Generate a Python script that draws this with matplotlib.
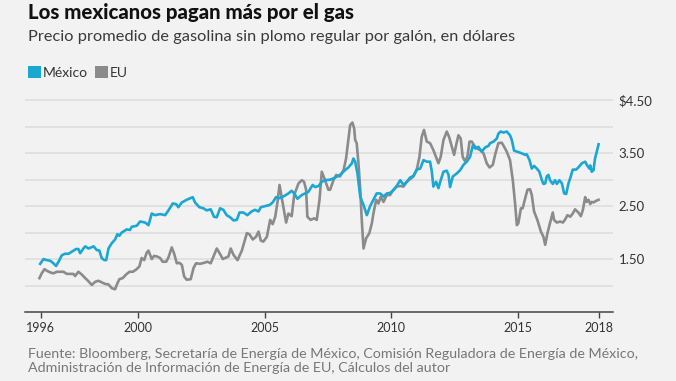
import matplotlib
matplotlib.use("Agg")
import matplotlib.pyplot as plt
from matplotlib.patches import Patch
from matplotlib.ticker import FixedLocator, FuncFormatter

# ---------------- data ----------------
mx_years = [1996.13, 1996.26, 1996.39, 1996.52, 1996.63, 1996.76, 1996.89, 1996.98, 1997.11, 1997.25,
            1997.38, 1997.55, 1997.64, 1997.71, 1997.84, 1997.91, 1998.04, 1998.24, 1998.37, 1998.47,
            1998.56, 1998.66, 1998.74, 1998.83, 1998.96, 1999.09, 1999.18, 1999.26, 1999.35, 1999.55,
            1999.68, 1999.75, 1999.95, 2000.08, 2000.28, 2000.41, 2000.54, 2000.67, 2000.87, 2001.07,
            2001.20, 2001.37, 2001.50, 2001.59, 2001.73, 2001.92, 2002.16, 2002.25, 2002.42, 2002.58,
            2002.71, 2002.87, 2003.00, 2003.11, 2003.24, 2003.37, 2003.50, 2003.64, 2003.77, 2003.90,
            2004.01, 2004.16, 2004.32, 2004.49, 2004.62, 2004.76, 2004.85, 2005.02, 2005.19, 2005.32,
            2005.45, 2005.59, 2005.77, 2005.94, 2006.07, 2006.17, 2006.30, 2006.47, 2006.60, 2006.73,
            2006.90, 2007.00, 2007.13, 2007.26, 2007.39, 2007.59, 2007.79, 2007.98, 2008.18, 2008.31,
            2008.45, 2008.51, 2008.58, 2008.67, 2008.78, 2008.91, 2009.04, 2009.17, 2009.30, 2009.43,
            2009.57, 2009.70, 2009.83, 2009.96, 2010.09, 2010.22, 2010.36, 2010.49, 2010.62, 2010.75,
            2010.88, 2011.01, 2011.15, 2011.28, 2011.41, 2011.54, 2011.61, 2011.67, 2011.78, 2011.87,
            2011.96, 2012.07, 2012.20, 2012.27, 2012.33, 2012.44, 2012.60, 2012.73, 2012.86, 2012.99,
            2013.12, 2013.23, 2013.32, 2013.45, 2013.58, 2013.72, 2013.85, 2013.91, 2014.05, 2014.18,
            2014.24, 2014.33, 2014.44, 2014.57, 2014.70, 2014.77, 2014.86, 2014.97, 2015.10, 2015.30,
            2015.36, 2015.47, 2015.56, 2015.65, 2015.76, 2015.86, 2015.96, 2016.02, 2016.09, 2016.15,
            2016.22, 2016.28, 2016.39, 2016.48, 2016.55, 2016.65, 2016.75, 2016.84, 2016.92, 2017.01,
            2017.10, 2017.18, 2017.31, 2017.40, 2017.54, 2017.67, 2017.76, 2017.84, 2017.87, 2017.93,
            2018.00, 2018.06, 2018.13, 2018.20]
mx_price = [1.41, 1.50, 1.48, 1.47, 1.43, 1.37, 1.48, 1.57, 1.60, 1.60,
            1.64, 1.69, 1.69, 1.61, 1.70, 1.74, 1.70, 1.74, 1.67, 1.66,
            1.52, 1.48, 1.48, 1.70, 1.80, 1.87, 1.97, 1.94, 2.00, 2.06,
            2.05, 2.11, 2.13, 2.21, 2.19, 2.14, 2.36, 2.33, 2.35, 2.33,
            2.42, 2.55, 2.54, 2.48, 2.57, 2.62, 2.67, 2.57, 2.48, 2.46,
            2.42, 2.44, 2.30, 2.29, 2.46, 2.43, 2.33, 2.29, 2.23, 2.24,
            2.38, 2.38, 2.33, 2.40, 2.43, 2.40, 2.48, 2.50, 2.52, 2.57,
            2.67, 2.65, 2.69, 2.74, 2.79, 2.74, 2.64, 2.71, 2.74, 2.77,
            2.90, 2.86, 2.88, 2.96, 2.99, 3.00, 3.04, 3.09, 3.18, 3.23,
            3.31, 3.40, 3.34, 3.12, 2.68, 2.52, 2.33, 2.50, 2.62, 2.74,
            2.74, 2.68, 2.74, 2.75, 2.80, 2.88, 2.99, 2.90, 2.96, 3.04,
            3.07, 3.19, 3.21, 3.37, 3.34, 3.34, 3.15, 2.87, 2.96, 2.84,
            2.99, 3.15, 3.17, 3.09, 2.86, 3.06, 3.12, 3.18, 3.28, 3.34,
            3.43, 3.65, 3.59, 3.62, 3.53, 3.61, 3.64, 3.69, 3.72, 3.78,
            3.87, 3.91, 3.89, 3.91, 3.84, 3.75, 3.55, 3.53, 3.51, 3.47,
            3.48, 3.37, 3.21, 3.26, 3.21, 3.15, 2.99, 2.92, 2.93, 3.06,
            3.09, 2.99, 2.92, 2.99, 2.92, 2.99, 2.93, 2.74, 2.73, 2.93,
            3.06, 3.19, 3.19, 3.23, 3.31, 3.34, 3.26, 3.21, 3.27, 3.15,
            3.18, 3.40, 3.53, 3.67]

eu_years = [1996.10, 1996.19, 1996.30, 1996.39, 1996.52, 1996.65, 1996.79, 1996.92, 1997.05, 1997.18,
            1997.31, 1997.44, 1997.51, 1997.64, 1997.77, 1997.91, 1998.04, 1998.17, 1998.30, 1998.43,
            1998.56, 1998.70, 1998.83, 1998.96, 1999.09, 1999.18, 1999.26, 1999.39, 1999.53, 1999.66,
            1999.79, 1999.92, 2000.05, 2000.14, 2000.24, 2000.34, 2000.41, 2000.54, 2000.63, 2000.74,
            2000.87, 2000.97, 2001.11, 2001.20, 2001.33, 2001.42, 2001.53, 2001.63, 2001.73, 2001.82,
            2001.92, 2002.08, 2002.19, 2002.29, 2002.45, 2002.61, 2002.74, 2002.87, 2002.98, 2003.11,
            2003.21, 2003.35, 2003.44, 2003.57, 2003.66, 2003.77, 2003.93, 2004.10, 2004.30, 2004.40,
            2004.53, 2004.66, 2004.76, 2004.85, 2004.95, 2005.09, 2005.22, 2005.32, 2005.42, 2005.51,
            2005.59, 2005.68, 2005.85, 2005.94, 2006.07, 2006.17, 2006.34, 2006.47, 2006.56, 2006.64,
            2006.69, 2006.82, 2006.96, 2007.06, 2007.17, 2007.26, 2007.39, 2007.52, 2007.59, 2007.72,
            2007.83, 2007.98, 2008.12, 2008.22, 2008.31, 2008.38, 2008.47, 2008.54, 2008.58, 2008.64,
            2008.71, 2008.78, 2008.84, 2008.91, 2009.01, 2009.14, 2009.24, 2009.30, 2009.41, 2009.50,
            2009.59, 2009.70, 2009.83, 2009.96, 2010.09, 2010.22, 2010.36, 2010.49, 2010.62, 2010.75,
            2010.88, 2011.01, 2011.12, 2011.21, 2011.30, 2011.41, 2011.54, 2011.67, 2011.78, 2011.87,
            2011.96, 2012.07, 2012.20, 2012.29, 2012.40, 2012.49, 2012.57, 2012.66, 2012.75, 2012.83,
            2012.93, 2013.02, 2013.10, 2013.19, 2013.28, 2013.39, 2013.52, 2013.65, 2013.78, 2013.89,
            2014.02, 2014.11, 2014.24, 2014.37, 2014.47, 2014.57, 2014.70, 2014.81, 2014.90, 2014.97,
            2015.03, 2015.13, 2015.20, 2015.30, 2015.39, 2015.49, 2015.56, 2015.65, 2015.78, 2015.92,
            2016.02, 2016.09, 2016.18, 2016.28, 2016.39, 2016.44, 2016.55, 2016.68, 2016.79, 2016.88,
            2016.97, 2017.08, 2017.18, 2017.27, 2017.40, 2017.50, 2017.58, 2017.67, 2017.73, 2017.80,
            2017.87, 2017.93, 2018.00, 2018.10, 2018.20]
eu_price = [1.14, 1.23, 1.31, 1.28, 1.25, 1.23, 1.26, 1.26, 1.26, 1.22,
            1.22, 1.22, 1.18, 1.26, 1.21, 1.14, 1.08, 1.01, 1.07, 1.09,
            1.06, 1.03, 1.02, 0.95, 0.93, 1.04, 1.12, 1.14, 1.21, 1.26,
            1.26, 1.30, 1.36, 1.52, 1.48, 1.62, 1.66, 1.50, 1.56, 1.55,
            1.52, 1.45, 1.45, 1.53, 1.72, 1.61, 1.42, 1.43, 1.39, 1.17,
            1.11, 1.12, 1.33, 1.42, 1.41, 1.43, 1.45, 1.42, 1.55, 1.70,
            1.62, 1.50, 1.52, 1.55, 1.70, 1.58, 1.48, 1.66, 1.99, 1.97,
            1.87, 1.92, 2.02, 1.85, 1.83, 1.92, 2.24, 2.16, 2.30, 2.58,
            2.90, 2.65, 2.19, 2.36, 2.31, 2.71, 2.93, 2.99, 2.96, 2.81,
            2.30, 2.24, 2.27, 2.24, 2.62, 3.15, 2.99, 2.81, 2.81, 2.99,
            3.09, 3.06, 3.18, 3.40, 3.75, 4.03, 4.08, 3.97, 3.75, 3.69,
            3.31, 2.81, 2.24, 1.70, 1.89, 1.99, 2.18, 2.36, 2.62, 2.55,
            2.68, 2.58, 2.71, 2.71, 2.81, 2.87, 2.88, 2.87, 2.96, 3.01,
            3.06, 3.18, 3.43, 3.81, 3.94, 3.72, 3.69, 3.56, 3.42, 3.31,
            3.43, 3.75, 3.91, 3.81, 3.62, 3.47, 3.65, 3.84, 3.78, 3.43,
            3.34, 3.45, 3.72, 3.72, 3.65, 3.59, 3.56, 3.50, 3.31, 3.23,
            3.28, 3.47, 3.69, 3.70, 3.62, 3.53, 3.37, 2.99, 2.55, 2.14,
            2.18, 2.46, 2.46, 2.65, 2.81, 2.82, 2.71, 2.40, 2.24, 2.02,
            1.92, 1.77, 1.99, 2.18, 2.38, 2.24, 2.19, 2.21, 2.19, 2.25,
            2.33, 2.30, 2.36, 2.44, 2.38, 2.31, 2.43, 2.67, 2.58, 2.62,
            2.54, 2.58, 2.57, 2.60, 2.62]

series_names = ["México", "EU"]
grid_values = [1.0, 1.5, 2.0, 2.5, 3.0, 3.5, 4.0, 4.5]
y_labels = {1.5: "1.50", 2.5: "2.50", 3.5: "3.50", 4.5: "$4.50"}
x_tick_pos = [1996.15, 2000, 2005, 2010, 2015, 2018.22]
x_tick_labels = ["1996", "2000", "2005", "2010", "2015", "2018"]

title = "Los mexicanos pagan más por el gas"
subtitle = "Precio promedio de gasolina sin plomo regular por galón, en dólares"
source = ("Fuente: Bloomberg, Secretaría de Energía de México, Comisión Reguladora de Energía de México,\n"
          "Administración de Información de Energía de EU, Cálculos del autor")

# ---------------- style ----------------
BG = "#f2f2f2"
BLUE = "#1aa7d4"
GREY = "#8b8b8b"
GRID = "#dddddd"
TXT = "#333333"
FONT = ["Lato", "DejaVu Sans"]
plt.rcParams["font.family"] = FONT

W, H = 676, 381
fig = plt.figure(figsize=(W / 100, H / 100), dpi=100, facecolor=BG)
left, right, bottom, top = 25, 613, 312, 95
ax = fig.add_axes([left / W, 1 - bottom / H, (right - left) / W, (bottom - top) / H])
ax.set_facecolor(BG)

ax.plot(eu_years, eu_price, color=GREY, lw=1.9, solid_joinstyle="round", zorder=3)
ax.plot(mx_years, mx_price, color=BLUE, lw=1.9, solid_joinstyle="round", zorder=4)

ax.set_xlim(1995.53, 2018.77)
ax.set_ylim(0.5, 4.6)

for s in ["top", "right", "left"]:
    ax.spines[s].set_visible(False)
ax.spines["bottom"].set_color("#444444")
ax.spines["bottom"].set_linewidth(1.1)

ax.yaxis.tick_right()
ax.yaxis.set_major_locator(FixedLocator(grid_values))
ax.yaxis.set_major_formatter(FuncFormatter(lambda v, p: y_labels.get(round(v, 2), "")))
ax.tick_params(axis="y", length=0, pad=4, labelsize=9.5, labelcolor=TXT)
ax.grid(axis="y", color=GRID, lw=1.1)
ax.set_axisbelow(True)

ax.set_xticks(x_tick_pos)
ax.set_xticklabels(x_tick_labels)
ax.tick_params(axis="x", length=4, width=1, color="#444444", pad=3, labelsize=9, labelcolor=TXT)

fig.text(28 / W, 1 - 12 / H, title, fontsize=14.7, fontweight="black", color="#111111", va="center", ha="left")
fig.text(28 / W, 1 - 37 / H, subtitle, fontsize=11.8, fontweight="normal", color="#3a3a3a", va="center", ha="left")

handles = [Patch(facecolor=BLUE, edgecolor="none"), Patch(facecolor=GREY, edgecolor="none")]
fig.legend(handles, series_names, loc="center left", bbox_to_anchor=(22 / W, 1 - 72.5 / H), ncol=2,
           frameon=False, handlelength=0.95, handleheight=0.95, handletextpad=0.15, columnspacing=0.5,
           fontsize=10, labelcolor=TXT, borderaxespad=0)

fig.text(28 / W, 1 - 361.5 / H, source, fontsize=10.3, color="#777777", va="center", ha="left", linespacing=1.2)

fig.savefig("out.png", dpi=100, facecolor=BG)
